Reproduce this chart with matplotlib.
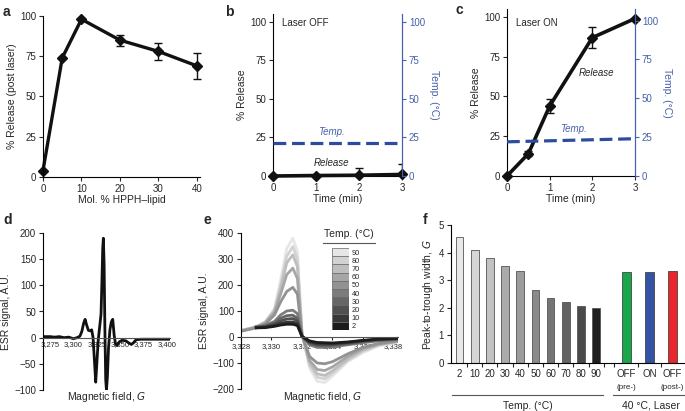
import matplotlib
matplotlib.use("Agg")
import matplotlib.pyplot as plt
from matplotlib.lines import Line2D
import numpy as np

plt.rcParams['font.family'] = ['Liberation Sans', 'DejaVu Sans']
plt.rcParams['font.size'] = 7
plt.rcParams['text.color'] = '#262626'
plt.rcParams['axes.labelcolor'] = '#262626'
plt.rcParams['xtick.color'] = '#262626'
plt.rcParams['ytick.color'] = '#262626'
plt.rcParams['axes.linewidth'] = 0.8

# ---- data ----
# a: release vs HPPH-lipid content
mol_pct = [0, 5, 10, 20, 30, 40]
release_a = [4, 74, 98, 85, 78, 69]
release_a_err = [0, 0, 0, 3.5, 5.5, 8]

# b: laser OFF
time_b = [0, 1, 2, 3]
release_b = [0, 0.3, 0.5, 1]
release_b_err = [0, 0, 5, 7]
temp_time_b = [0, 3]
temp_b = [21.5, 21.5]

# c: laser ON
time_c = [0, 0.5, 1, 2, 3]
release_c = [0, 14, 44, 87, 99]
release_c_err = [0, 1.5, 4.5, 6.5, 0]
temp_time_c = [0, 3]
temp_c = [22, 24]

# d: ESR spectrum
d_field = [3268, 3275, 3280, 3285, 3290, 3295, 3300, 3304, 3307, 3309, 3311,
           3312.5, 3314, 3316, 3318, 3319.5, 3321, 3322.5, 3323.8, 3325, 3326.5,
           3328, 3329.5, 3330.5, 3331.3, 3332, 3332.8, 3333.6, 3334.5, 3335.3, 3336.3,
           3337.5, 3339, 3340.5, 3342, 3343.5, 3345, 3346.5, 3349, 3352, 3356,
           3359, 3362, 3364, 3367, 3372, 3380, 3390, 3403]
d_signal = [2, 2, 1, 2, 0, 1, -2, 0, 3, 12, 28,
            35, 25, 14, 13, 15, 0, -45, -85, -50, -5,
            20, 45, 110, 170, 190, 140, 20, -80, -100, -75,
            -20, 15, 30, 35, 5, -12, -15, -8, -5, -6,
            -10, -13, -10, -4, -3, -3, -3, -3]

# e: ESR spectra vs temperature
e_temps = [2, 10, 20, 30, 40, 50, 60, 70, 80, 90]
e_field = [3328, 3329, 3329.6, 3330.2, 3330.6, 3331.0, 3331.4, 3331.7, 3332.0,
           3332.5, 3333.0, 3333.5, 3334.0, 3335.0, 3336.0, 3337.0, 3338.3]
nan = np.nan
e_signal = {
    90: [25, 40, 60, 110, 220, 340, 380, 330, 20, -120, -170, -175, -150, -95, -60, -35, -20],
    80: [25, 40, 58, 105, 200, 310, 348, 300, 15, -110, -155, -161, -140, -90, -55, -32, -18],
    70: [24, 38, 56, 100, 185, 285, 316, 270, 12, -100, -142, -148, -130, -85, -50, -30, -17],
    60: [24, 37, 54, 95, 165, 240, 265, 225, 10, -90, -125, -129, -115, -75, -45, -28, -16],
    50: [22, 35, 50, 85, 135, 175, 191, 165, 8, -75, -100, -103, -95, -65, -40, -25, -15],
    40: [nan, 40, 45, 60, 85, 100, 103, 90, 5, -30, -40, -40, -38, -30, -22, -15, -10],
    30: [nan, 38, 42, 55, 72, 82, 84, 72, 4, -25, -33, -34, -33, -26, -18, -12, -8],
    20: [nan, 37, 40, 50, 62, 69, 71, 62, 3, -22, -29, -30, -29, -23, -16, -10, -7],
    10: [nan, 36, 38, 45, 53, 57, 58, 52, 2, -18, -25, -26, -26, -21, -14, -9, -6],
    2: [nan, 35, 36, 41, 46, 49, 49, 44, 2, -15, -21, -22, -23, -19, -13, -8, -5],
}
e_colors = ['#1c1c1c', '#383838', '#505050', '#666666', '#7c7c7c',
            '#929292', '#a6a6a6', '#bebebe', '#d2d2d2', '#e6e6e6']

# f: peak-to-trough width
f_temp_labels = ['2', '10', '20', '30', '40', '50', '60', '70', '80', '90']
f_temp_width = [4.55, 4.1, 3.8, 3.5, 3.35, 2.65, 2.35, 2.2, 2.05, 1.98]
f_temp_colors = ['#e8e8e8', '#d6d6d6', '#c2c2c2', '#aaaaaa', '#9c9c9c',
                 '#8a8a8a', '#757575', '#636363', '#4a4a4a', '#1f1f1f']
f_laser_labels = ['OFF', 'ON', 'OFF']
f_laser_sub = ['(pre-)', '', '(post-)']
f_laser_width = [3.3, 3.3, 3.32]
f_laser_colors = ['#1aa64a', '#3553a5', '#e8262b']

BLUE = '#2d4b9f'
BLUE_AX = '#4660ab'

W, H = 685, 411


def box(l, t, r, b):
    return [l / W, 1 - b / H, (r - l) / W, (b - t) / H]


def style(ax):
    for s in ['top', 'right']:
        ax.spines[s].set_visible(False)
    ax.tick_params(direction='out', length=3, width=0.8, labelsize=7, pad=2)


fig = plt.figure(figsize=(6.85, 4.11), dpi=100)

# ---- a ----
ax = fig.add_axes(box(43, 16, 200, 177))
style(ax)
ax.errorbar(mol_pct, release_a, yerr=release_a_err, color='#111111', lw=2.4,
            marker='D', ms=5.5, capsize=3, elinewidth=1.0, capthick=1.0, clip_on=False)
ax.set_xlim(0, 40.8)
ax.set_ylim(0, 100)
ax.set_xticks([0, 10, 20, 30, 40])
ax.set_yticks([0, 25, 50, 75, 100])
ax.set_xlabel('Mol. % HPPH\u2013lipid', fontsize=7.5, labelpad=1)
ax.set_ylabel('% Release (post laser)', fontsize=7.5, labelpad=2)
fig.text(3 / W, 1 - 12 / H, 'a', fontsize=10, fontweight='bold', va='center')


def release_panel(ax, t, r, rerr, tt, temp, tlim):
    style(ax)
    ax.spines['right'].set_visible(True)
    ax.spines['right'].set_color(BLUE_AX)
    ax.errorbar(t, r, yerr=rerr, fmt='none', ecolor='#111111', elinewidth=1.0,
                capsize=3, capthick=1.0)
    ax.plot(t, r, color='#111111', lw=2.6, marker='D', ms=5, clip_on=False, zorder=5)
    ax.set_xlim(0, 3)
    ax.set_ylim(0, 105)
    ax.set_xticks([0, 1, 2, 3])
    ax.set_yticks([0, 25, 50, 75, 100])
    ax.set_xlabel('Time (min)', fontsize=7.5, labelpad=1)
    ax.set_ylabel('% Release', fontsize=7.5, labelpad=2)
    ax2 = ax.twinx()
    for s in ['top', 'left', 'bottom']:
        ax2.spines[s].set_visible(False)
    ax2.spines['right'].set_color(BLUE_AX)
    ax2.plot(tt, temp, color=BLUE, lw=2.3, ls='--', dashes=(4, 1.8), clip_on=False)
    ax2.set_ylim(0, tlim)
    ax2.set_yticks([0, 25, 50, 75, 100])
    ax2.tick_params(direction='out', length=3, width=0.8, labelsize=7, pad=2,
                    colors=BLUE_AX)
    ax2.set_ylabel('Temp. (\u00b0C)', fontsize=7.5, color=BLUE_AX, rotation=270,
                   labelpad=10)
    return ax2


# ---- b ----
ax = fig.add_axes(box(273, 14, 402, 176))
release_panel(ax, time_b, release_b, release_b_err, temp_time_b, temp_b, 105)
ax.text(0.2, 99, 'Laser OFF', fontsize=7, va='center')
ax.text(1.35, 26.5, 'Temp.', fontsize=7, style='italic', color=BLUE_AX, ha='center')
ax.text(1.35, 6.5, 'Release', fontsize=7, style='italic', ha='center')
fig.text(225 / W, 1 - 12 / H, 'b', fontsize=10, fontweight='bold', va='center')

# ---- c ----
ax = fig.add_axes(box(507, 9, 635, 176))
release_panel(ax, time_c, release_c, release_c_err, temp_time_c, temp_c, 107.5)
ax.text(0.2, 96, 'Laser ON', fontsize=7, va='center')
ax.text(1.55, 27.5, 'Temp.', fontsize=7, style='italic', color=BLUE_AX, ha='center')
ax.text(2.1, 63, 'Release', fontsize=7, style='italic', ha='center')
fig.text(455 / W, 1 - 10 / H, 'c', fontsize=10, fontweight='bold', va='center')

# ---- d ----
ax = fig.add_axes(box(43, 233, 170, 390))
style(ax)
ax.plot(d_field, d_signal, color='#111111', lw=2.0)
ax.set_xlim(3267.5, 3403.2)
ax.set_ylim(-100, 200)
ax.spines['bottom'].set_position(('data', 0))
ax.spines['bottom'].set_color('#555555')
ax.set_xticks([3275, 3300, 3325, 3350, 3375, 3400])
ax.set_xticklabels(['3,275', '3,300', '3,325', '3,350', '3,375', '3,400'])
ax.tick_params(axis='x', labelsize=5.5, length=0, pad=2.5)
ax.set_yticks([-100, -50, 0, 50, 100, 150, 200])
ax.set_yticklabels(['\u2212100', '\u221250', '0', '50', '100', '150', '200'])
ax.set_ylabel('ESR signal, A.U.', fontsize=7.5, labelpad=2)
fig.text(107 / W, 1 - 397 / H, 'Magnetic field, $\\mathit{G}$', fontsize=7.5,
         ha='center', va='center')
fig.text(3 / W, 1 - 220 / H, 'd', fontsize=10, fontweight='bold', va='center')

# ---- e ----
ax = fig.add_axes(box(241, 233, 398, 389))
style(ax)
for temp, col in reversed(list(zip(e_temps, e_colors))):
    ax.plot(e_field, e_signal[temp], color=col, lw=2.0)
ax.set_xlim(3328, 3338.3)
ax.set_ylim(-200, 400)
ax.spines['bottom'].set_position(('data', 0))
ax.spines['bottom'].set_color('#555555')
ax.set_xticks([3328, 3330, 3332, 3334, 3336, 3338])
ax.set_xticklabels(['3,328', '3,330', '3,332', '3,334', '3,336', '3,338'])
ax.tick_params(axis='x', labelsize=5.5, length=2, pad=2)
ax.set_yticks([-200, -100, 0, 100, 200, 300, 400])
ax.set_yticklabels(['\u2212200', '\u2212100', '0', '100', '200', '300', '400'])
ax.set_ylabel('ESR signal, A.U.', fontsize=7.5, labelpad=2)
fig.text(323 / W, 1 - 397 / H, 'Magnetic field, $\\mathit{G}$', fontsize=7.5,
         ha='center', va='center')
fig.text(203 / W, 1 - 220 / H, 'e', fontsize=10, fontweight='bold', va='center')

# e legend: stacked swatches
axl = fig.add_axes(box(332, 248, 349, 330))
axl.barh(np.arange(len(e_temps)), 1, height=1, color=e_colors,
         edgecolor='#666666', linewidth=0.5)
axl.set_xlim(0, 1)
axl.set_ylim(-0.5, len(e_temps) - 0.5)
axl.yaxis.tick_right()
axl.set_yticks(np.arange(len(e_temps)))
axl.set_yticklabels([str(t) for t in e_temps])
axl.tick_params(axis='y', length=0, labelsize=5.3, pad=2)
axl.set_xticks([])
for s in axl.spines.values():
    s.set_visible(False)
fig.text(349 / W, 1 - 234 / H, 'Temp. (\u00b0C)', fontsize=7.5, ha='center', va='center')
fig.add_artist(Line2D([323 / W, 375 / W], [1 - 243 / H, 1 - 243 / H],
                      color='#555555', lw=0.8))

# ---- f ----
ax = fig.add_axes(box(451, 225, 685, 363))
style(ax)
temp_x = np.arange(len(f_temp_width))
laser_x = 11 + 1.5 * np.arange(len(f_laser_width))
ax.bar(temp_x, f_temp_width, width=0.5, color=f_temp_colors, edgecolor='#555555',
       linewidth=0.6)
ax.bar(laser_x, f_laser_width, width=0.6, color=f_laser_colors, edgecolor='#444444',
       linewidth=0.6)
ax.set_xlim(-0.56, 14.84)
ax.set_ylim(0, 5)
ax.set_yticks([0, 1, 2, 3, 4, 5])
ax.set_xticks(list(temp_x) + list(laser_x))
ax.set_xticklabels(f_temp_labels + f_laser_labels)
ax.tick_params(axis='x', length=0, labelsize=7, pad=4)
ax.set_xticks(list(temp_x + 0.5) + [10.2, 11.75, 13.25], minor=True)
ax.tick_params(axis='x', which='minor', length=3, width=0.8)
ax.set_ylabel('Peak-to-trough width, $\\mathit{G}$', fontsize=7.5, labelpad=3)
tr = ax.get_xaxis_transform()
for x, sub in zip(laser_x, f_laser_sub):
    ax.text(x, -0.175, sub, transform=tr, fontsize=5.8, ha='center', va='center')
ax.plot([-0.5, 9.45], [-0.232, -0.232], transform=tr, color='#555555', lw=0.8,
        clip_on=False)
ax.plot([10.1, 14.84], [-0.232, -0.232], transform=tr, color='#555555', lw=0.8,
        clip_on=False)
ax.text(4.5, -0.31, 'Temp. (\u00b0C)', transform=tr, fontsize=7.5, ha='center', va='center')
ax.text(12.6, -0.31, '40 \u00b0C, Laser', transform=tr, fontsize=7.5, ha='center',
        va='center')
fig.text(423 / W, 1 - 220 / H, 'f', fontsize=10, fontweight='bold', va='center')

fig.savefig('out.png', dpi=100)
